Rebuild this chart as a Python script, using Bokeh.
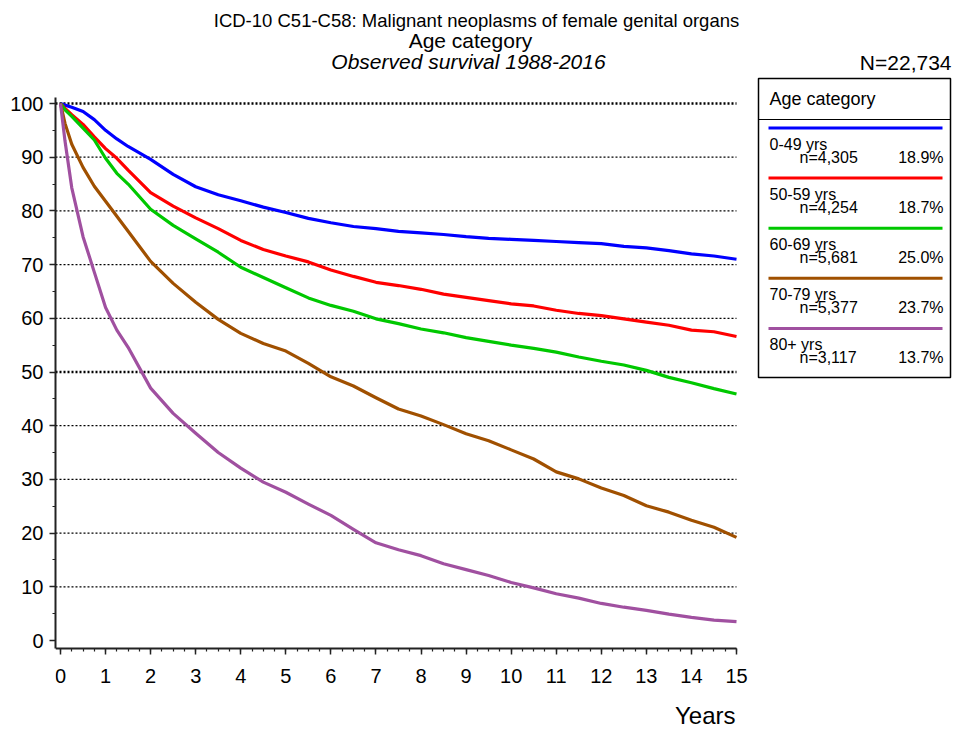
from bokeh.plotting import figure
from bokeh.models import Range1d, SingleIntervalTicker, Label
from bokeh.embed import file_html
from bokeh.resources import INLINE
from bokeh.core.properties import value

FONT = "Liberation Sans"

# ---- survival data (observed survival, %) ----
years = [0, 0.1, 0.25, 0.5, 0.75, 1, 1.25, 1.5, 2, 2.5, 3, 3.5, 4, 4.5, 5, 5.5, 6,
         6.5, 7, 7.5, 8, 8.5, 9, 9.5, 10, 10.5, 11, 11.5, 12, 12.5, 13, 13.5, 14,
         14.5, 15]

surv_0_49 = [100, 99.7, 99.3, 98.5, 97.0, 95.0, 93.4, 92.0, 89.6, 86.8, 84.5, 83.0,
             81.9, 80.7, 79.7, 78.6, 77.8, 77.1, 76.7, 76.2, 75.9, 75.6, 75.2, 74.9,
             74.7, 74.5, 74.3, 74.1, 73.9, 73.4, 73.1, 72.6, 72.0, 71.6, 71.0]
surv_50_59 = [100, 99.1, 97.9, 96.1, 93.8, 91.6, 89.8, 87.6, 83.4, 80.9, 78.7, 76.7,
              74.5, 72.8, 71.6, 70.5, 69.0, 67.8, 66.7, 66.1, 65.4, 64.5, 63.9, 63.3,
              62.7, 62.3, 61.5, 60.9, 60.5, 59.9, 59.3, 58.7, 57.8, 57.5, 56.6]
surv_60_69 = [100, 98.8, 97.6, 95.4, 93.2, 89.8, 87.0, 85.0, 80.3, 77.3, 74.8, 72.3,
              69.5, 67.6, 65.7, 63.8, 62.4, 61.3, 59.9, 59.0, 58.0, 57.3, 56.4, 55.7,
              55.0, 54.4, 53.7, 52.8, 52.0, 51.3, 50.3, 49.0, 48.0, 46.9, 45.9]
surv_70_79 = [100, 96.3, 92.4, 88.1, 84.6, 81.8, 79.0, 76.2, 70.6, 66.5, 63.0, 59.8,
              57.2, 55.3, 53.9, 51.6, 49.1, 47.4, 45.2, 43.1, 41.8, 40.2, 38.5, 37.2,
              35.5, 33.8, 31.4, 30.1, 28.4, 27.0, 25.1, 23.9, 22.4, 21.1, 19.2]
surv_80 = [100, 93.0, 84.3, 75.2, 68.6, 62.0, 57.8, 54.6, 47.0, 42.3, 38.6, 35.0,
           32.1, 29.5, 27.6, 25.4, 23.3, 20.7, 18.2, 16.9, 15.8, 14.3, 13.2, 12.1,
           10.8, 9.8, 8.7, 7.9, 6.9, 6.2, 5.6, 4.9, 4.3, 3.8, 3.5]

group_names = ["0-49 yrs", "50-59 yrs", "60-69 yrs", "70-79 yrs", "80+ yrs"]
group_n = ["n=4,305", "n=4,254", "n=5,681", "n=5,377", "n=3,117"]
group_pct = ["18.9%", "18.7%", "25.0%", "23.7%", "13.7%"]
group_colors = ["#0000FF", "#FF0000", "#00C800", "#A05000", "#A050A0"]
series = [surv_0_49, surv_50_59, surv_60_69, surv_70_79, surv_80]

grid_levels = [10, 20, 30, 40, 50, 60, 70, 80, 90, 100]
bold_levels = [50, 100]

title_lines = ["ICD-10 C51-C58: Malignant neoplasms of female genital organs",
               "Age category"]
subtitle = "Observed survival 1988-2016"
total_n = "N=22,734"
legend_title = "Age category"
x_caption = "Years"
y_caption = "%"

# ---- figure geometry (canvas pixels) ----
W, H = 953, 731
FL, FR, FT, FB = 55, W, 0, H         # plotting frame
AXIS_Y = 648                         # where the time axis is drawn
X_PX0, X_PPU = 60, (736 - 60) / 15   # x = 0 position and pixels per year
Y_PX0, Y_PPU = 640, (640 - 103) / 100  # y = 0 position and pixels per percent

X0 = -(X_PX0 - FL) / X_PPU
X1 = X0 + (FR - FL) / X_PPU
Y0 = -(FB - Y_PX0) / Y_PPU
Y1 = Y0 + (FB - FT) / Y_PPU


def sx(px):
    return X0 + (px - FL) / X_PPU


def sy(py):
    return Y0 + (FB - py) / Y_PPU


p = figure(width=W, height=H, x_range=Range1d(X0, X1), y_range=Range1d(Y0, Y1),
           output_backend="svg", toolbar_location=None,
           min_border_left=FL, min_border_right=0, min_border_top=0,
           min_border_bottom=0)
p.outline_line_color = None
p.background_fill_color = "white"
p.border_fill_color = "white"
p.xgrid.visible = False
p.ygrid.visible = False

# dotted horizontal reference lines, heavier at 50 % and 100 %
for lvl in grid_levels:
    p.segment(x0=[X0], y0=[lvl], x1=[15], y1=[lvl], line_color="black",
              line_dash="2 2", line_width=2.4 if lvl in bold_levels else 1.3)

for ax in (p.xaxis[0], p.yaxis[0]):
    ax.axis_line_color = "#222222"
    ax.axis_line_width = 2
    ax.major_tick_line_color = "#222222"
    ax.minor_tick_line_color = "#222222"
    ax.major_tick_line_width = 1.5
    ax.minor_tick_line_width = 1.2
    ax.major_tick_in = 0
    ax.minor_tick_in = 0
    ax.major_tick_out = 6
    ax.minor_tick_out = 3
    ax.major_label_text_font = FONT
    ax.major_label_text_font_size = "20px"
    ax.major_label_text_color = "black"

p.xaxis.ticker = SingleIntervalTicker(interval=1, num_minor_ticks=4)
p.yaxis.ticker = SingleIntervalTicker(interval=10, num_minor_ticks=2)
p.xaxis.fixed_location = sy(AXIS_Y)
p.xaxis.bounds = (X0, 15)
p.yaxis.bounds = (sy(AXIS_Y), sy(97))
p.xaxis.major_label_standoff = 14
p.yaxis.major_label_standoff = 6

for vals, col in zip(series, group_colors):
    p.line(years, vals, line_color=col, line_width=3.2, line_join="round")


def add_label(px, py, text, size, align="center", style="normal"):
    p.add_layout(Label(x=sx(px), y=sy(py), text=text, text_align=align,
                       text_baseline="middle", text_font=FONT, text_font_size=size,
                       text_font_style=style, text_color="black"))


# titles and captions
add_label(476, 20, title_lines[0], "18.5px")
add_label(470, 40, title_lines[1], "21px")
add_label(468, 61, subtitle, "21px", style="italic")
add_label(43, 64, y_caption, "21px")
add_label(951, 62, total_n, "21px", align="right")
add_label(735, 715, x_caption, "24px", align="right")

# legend panel
p.quad(left=[sx(758)], right=[sx(950)], top=[sy(78)], bottom=[sy(377)],
       fill_color="white", line_color="black", line_width=1.5)
p.segment(x0=[sx(758)], y0=[sy(119)], x1=[sx(950)], y1=[sy(119)],
          line_color="black", line_width=1.2)
p.text([sx(769)], [sy(98)], text=[legend_title], text_baseline="middle",
       text_font=value(FONT), text_font_size="18px", text_color="black")

for i, (name, n, pct, col) in enumerate(zip(group_names, group_n, group_pct, group_colors)):
    yl = 127.5 + 50.1 * i
    p.segment(x0=[sx(768)], y0=[sy(yl)], x1=[sx(942)], y1=[sy(yl)],
              line_color=col, line_width=3)
    p.text([sx(769)], [sy(yl + 16)], text=[name], text_baseline="middle",
           text_font=value(FONT), text_font_size="16px", text_color="black")
    p.text([sx(799)], [sy(yl + 29.5)], text=[n], text_baseline="middle",
           text_font=value(FONT), text_font_size="16px", text_color="black")
    p.text([sx(943)], [sy(yl + 29.5)], text=[pct], text_align="right",
           text_baseline="middle", text_font=value(FONT), text_font_size="16px",
           text_color="black")

open("out.html", "w").write(file_html(p, INLINE))
